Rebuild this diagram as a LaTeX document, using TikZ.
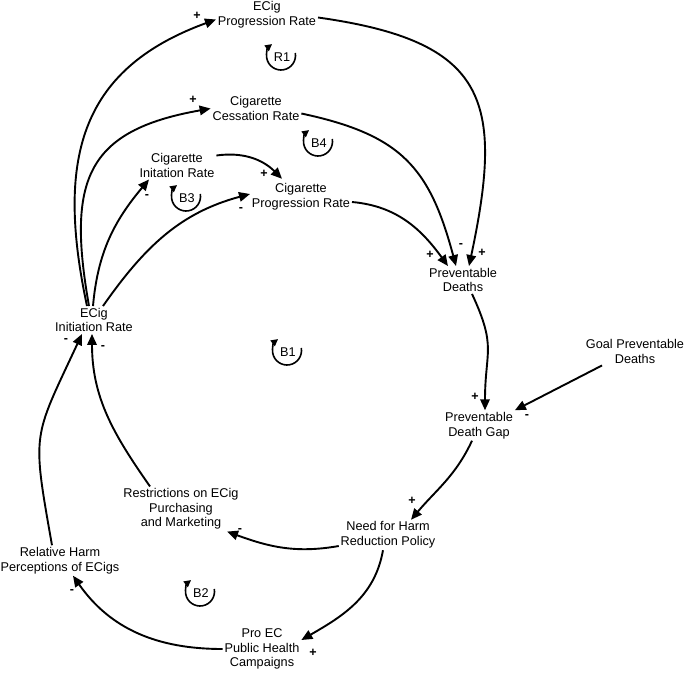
\documentclass[tikz,border=0pt]{standalone}
\usepackage{fontspec}
\setmainfont{Liberation Sans}
\usetikzlibrary{arrows.meta}
\begin{document}
\begin{tikzpicture}[x=1pt,y=1pt,line width=1.9pt,
  var/.style={align=center,inner sep=1pt,font=\fontsize{12.7pt}{14.7pt}\selectfont},
  sgn/.style={inner sep=0pt,font=\fontsize{12.5pt}{12.5pt}\selectfont\bfseries},
  lnk/.style={-{Triangle[length=11pt,width=9.5pt]}},
  lp/.style={inner sep=0pt,font=\fontsize{12.7pt}{14.7pt}\selectfont},
  lparc/.style={line width=1.6pt,-{Triangle[length=7pt,width=7pt]}}]
  \useasboundingbox (0,0) rectangle (685,-672);
  % variables
  \node[var] (ecprog) at (267,-14.5) {ECig\\Progression Rate};
  \node[var] (cess) at (256,-108.5) {Cigarette\\Cessation Rate};
  \node[var] (ciginit) at (177,-165.5) {Cigarette\\Initation Rate};
  \node[var] (cigprog) at (301,-197) {Cigarette\\Progression Rate};
  \node[var] (deaths) at (463,-280) {Preventable\\Deaths};
  \node[var] (goal) at (635,-351.5) {Goal Preventable\\Deaths};
  \node[var] (gap) at (479,-425.5) {Preventable\\Death Gap};
  \node[var] (need) at (388,-535) {Need for Harm\\Reduction Policy};
  \node[var] (restr) at (181,-509) {Restrictions on ECig\\Purchasing\\and Marketing};
  \node[var] (harm) at (60,-560.5) {Relative Harm\\Perceptions of ECigs};
  \node[var] (proec) at (262,-649) {Pro EC\\Public Health\\Campaigns};
  \node[var] (ecinit) at (94,-320) {ECig\\Initiation Rate};
  % loops
  \node[lp] (r1) at (282,-57) {R1};
  \node[lp] (b4) at (319,-143) {B4};
  \node[lp] (b3) at (187,-198) {B3};
  \node[lp] (b1) at (288,-352) {B1};
  \node[lp] (b2) at (201,-593) {B2};
  \foreach \lpn in {r1,b4,b3,b1,b2}
    \draw[lparc] ([shift={(-1,1.5)}]\lpn.center) ++(10:14.5) arc[start angle=10,end angle=-232,radius=14.5];
  % links
  \draw[lnk] ([xshift=-7pt]ecinit.north) to[out=102,in=200,looseness=1.2] ([yshift=-5pt]ecprog.west);
  \draw[lnk] ([xshift=-5pt]ecinit.north) to[out=100,in=190,looseness=1.4] (cess.west);
  \draw[lnk] ([xshift=-1pt]ecinit.north) to[out=85,in=230] ([xshift=-28pt]ciginit.south);
  \draw[lnk] ([xshift=9pt]ecinit.north) to[out=55,in=195] ([yshift=3pt]cigprog.west);
  \draw[lnk] ([yshift=10pt]ciginit.east) to[out=8,in=135] ([xshift=-19pt,yshift=3pt]cigprog.north);
  \draw[lnk] ([yshift=-5pt]cigprog.east) to[out=-5,in=126] ([xshift=-15pt]deaths.north);
  \draw[lnk] ([yshift=-5pt]cess.east) to[out=-12,in=105,looseness=1.2] ([xshift=-7pt]deaths.north);
  \draw[lnk] ([yshift=-3pt]ecprog.east) to[out=-8,in=78,looseness=1.5] ([xshift=6pt]deaths.north);
  \draw[lnk] ([xshift=9pt]deaths.south) to[out=-65,in=90,looseness=1.3] ([xshift=6pt]gap.north);
  \draw[lnk] ([xshift=-33pt]goal.south) -- (gap.north east);
  \draw[lnk] ([xshift=-7pt]gap.south) to[out=-115,in=50] ([xshift=23pt]need.north);
  \draw[lnk] ([yshift=-11pt]need.west) to[out=190,in=-20] ([xshift=46pt]restr.south);
  \draw[lnk] ([xshift=-5pt]need.south) to[out=-100,in=30] ([yshift=9pt]proec.east);
  \draw[lnk] (proec.west) to[out=180,in=-55] ([xshift=13pt]harm.south);
  \draw[lnk] ([xshift=-8pt]harm.north) to[out=100,in=-115,looseness=1.4] ([xshift=-12pt]ecinit.south);
  \draw[lnk] ([xshift=-31pt]restr.north) to[out=125,in=-90] ([xshift=-2pt]ecinit.south);
  % polarities
  \node[sgn] (sg1) at (197,-16) {+};
  \node[sgn] (sg2) at (193,-100) {+};
  \node[sgn] (sg3) at (147,-197) {-};
  \node[sgn] (sg4) at (241,-210) {-};
  \node[sgn] (sg5) at (264,-174) {+};
  \node[sgn] (sg6) at (430,-255) {+};
  \node[sgn] (sg7) at (461,-246) {-};
  \node[sgn] (sg8) at (482,-253) {+};
  \node[sgn] (sg9) at (475,-397) {+};
  \node[sgn] (sg10) at (527,-417) {-};
  \node[sgn] (sg11) at (412,-501) {+};
  \node[sgn] (sg12) at (240,-530) {-};
  \node[sgn] (sg13) at (313,-653) {+};
  \node[sgn] (sg14) at (72,-591) {-};
  \node[sgn] (sg15) at (66,-341) {-};
  \node[sgn] (sg16) at (103,-348) {-};
\end{tikzpicture}
\end{document}
